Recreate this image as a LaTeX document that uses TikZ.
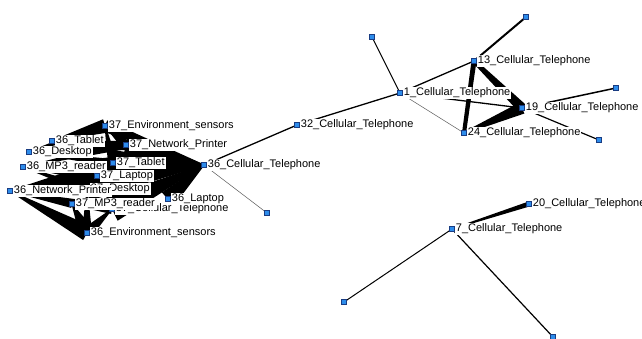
\documentclass[tikz,border=0pt]{standalone}
\usepackage{fontspec}
\setsansfont{Liberation Sans}
\usetikzlibrary{calc,backgrounds}
\definecolor{devfill}{RGB}{45,140,235}
\definecolor{devline}{RGB}{25,60,130}
% tapered tie: from #1 (half width #3) to #2 (half width #4)
\newcommand{\taper}[4]{\fill ($(#1.center)!#3!90:(#2.center)$) -- ($(#2.center)!#4!-90:(#1.center)$) -- ($(#2.center)!#4!90:(#1.center)$) -- ($(#1.center)!#3!-90:(#2.center)$) -- cycle;}

\begin{document}
\begin{tikzpicture}[
  x=1pt,y=-1pt,
  dev/.style={rectangle,draw=devline,fill=devfill,line width=0.5pt,minimum size=5pt,inner sep=0pt},
  lab/.style={fill=white,inner sep=1pt,font=\sffamily\fontsize{11}{12}\selectfont},
  tie/.style={line width=1.3pt},
  thin tie/.style={line width=0.5pt,draw=black!65}
]
\useasboundingbox (0,0) rectangle (642,338);

% devices 36 / 37
\node[dev,label={[lab]east:37\_Environment\_sensors}] (env37) at (105,126) {};
\node[dev,label={[lab]east:36\_Tablet}] (tab36) at (52,141) {};
\node[dev,label={[lab]east:37\_Network\_Printer}] (np37) at (126,145) {};
\node[dev,label={[lab]east:36\_Desktop}] (dk36) at (29,152) {};
\node[dev,label={[lab]east:37\_Tablet}] (tab37) at (113,163) {};
\node[dev,label={[lab]east:36\_MP3\_reader}] (mp36) at (23,167) {};
\node[dev,label={[lab]east:37\_Laptop}] (lap37) at (97,176) {};
\node[dev,label={[lab]east:37\_Desktop}] (dk37) at (87,189) {};
\node[dev,label={[lab]east:36\_Network\_Printer}] (np36) at (10,191) {};
\node[dev,label={[lab]east:37\_Cellular\_Telephone}] (cell37) at (112,209) {};
\node[dev,label={[lab]east:36\_Laptop}] (lap36) at (168,199) {};
\node[dev,label={[lab]east:37\_MP3\_reader}] (mp37) at (72,204) {};
\node[dev,label={[lab]east:36\_Environment\_sensors}] (env36) at (87,233) {};
\node[dev,label={[lab]east:36\_Cellular\_Telephone}] (cell36) at (204,165) {};

% phones
\node[dev,label={[lab]east:32\_Cellular\_Telephone}] (cell32) at (297,125) {};
\node[dev,label={[lab]east:1\_Cellular\_Telephone}] (cell1) at (400,93) {};
\node[dev,label={[lab]east:13\_Cellular\_Telephone}] (cell13) at (474,61) {};
\node[dev,label={[lab]east:19\_Cellular\_Telephone}] (cell19) at (522,108) {};
\node[dev,label={[lab]east:24\_Cellular\_Telephone}] (cell24) at (464,133) {};
\node[dev,label={[lab]east:20\_Cellular\_Telephone}] (cell20) at (529,204) {};
\node[dev,label={[lab]east:7\_Cellular\_Telephone}] (cell7) at (452,229) {};
\node[dev] (u1) at (372,37) {};
\node[dev] (u2) at (526,17) {};
\node[dev] (u3) at (616,88) {};
\node[dev] (u4) at (599,140) {};
\node[dev] (u5) at (344,302) {};
\node[dev] (u6) at (553,337) {};
\node[dev] (u7) at (267,213) {};

\begin{scope}[on background layer]
% big bundle from 36_Cellular_Telephone
\taper{cell36}{np37}{0.5pt}{12pt}
\taper{cell36}{env37}{0.5pt}{6pt}
\taper{cell36}{tab37}{0.5pt}{13pt}
\taper{cell36}{lap37}{0.5pt}{12pt}
\taper{cell36}{dk37}{0.5pt}{12pt}
\taper{cell36}{cell37}{0.5pt}{13pt}
\taper{cell36}{lap36}{0.5pt}{9pt}
% ties inside the group
\taper{tab36}{env37}{0.5pt}{7pt}
\taper{dk36}{env37}{0.5pt}{5pt}
\taper{dk36}{np37}{0.5pt}{5pt}
\taper{tab36}{np37}{0.5pt}{4pt}
\taper{env37}{np37}{0.5pt}{5pt}
\taper{env37}{tab37}{0.5pt}{5pt}
\taper{dk36}{tab37}{0.5pt}{4pt}
\taper{mp36}{np37}{0.5pt}{4pt}
\taper{mp36}{tab37}{0.5pt}{6pt}
\taper{mp36}{lap37}{0.5pt}{6pt}
\taper{mp36}{dk37}{0.5pt}{4pt}
\taper{np36}{lap37}{0.5pt}{7pt}
\taper{np36}{tab37}{0.5pt}{6pt}
\taper{np36}{dk37}{0.5pt}{6pt}
\taper{np36}{mp37}{0.5pt}{4pt}
\taper{np36}{cell37}{0.5pt}{5pt}
\taper{np36}{env36}{0.5pt}{8pt}
\taper{mp37}{env36}{0.5pt}{8pt}
\taper{cell37}{env36}{0.5pt}{6pt}
\taper{dk37}{env36}{0.5pt}{5pt}
% phones
\draw[tie] (cell36) -- (cell32);
\draw[thin tie] (cell36) -- (u7);
\draw[tie] (cell32) -- (cell1);
\draw[line width=1pt] (cell1) -- (u1);
\draw[tie] (cell1) -- (cell13);
\draw[tie] (cell1) -- (cell19);
\draw[thin tie] (cell1) -- (cell24);
\draw[line width=2pt] (cell13) -- (u2);
\taper{cell13}{cell19}{2pt}{5pt}
\taper{cell13}{cell24}{2.5pt}{2pt}
\taper{cell24}{cell19}{1pt}{6pt}
\draw[line width=1.5pt] (cell19) -- (u3);
\draw[line width=1.2pt] (cell19) -- (u4);
\taper{cell7}{cell20}{0.5pt}{2.5pt}
\draw[line width=1pt] (cell7) -- (u5);
\draw[line width=1.2pt] (cell7) -- (u6);
\end{scope}
\end{tikzpicture}
\end{document}
